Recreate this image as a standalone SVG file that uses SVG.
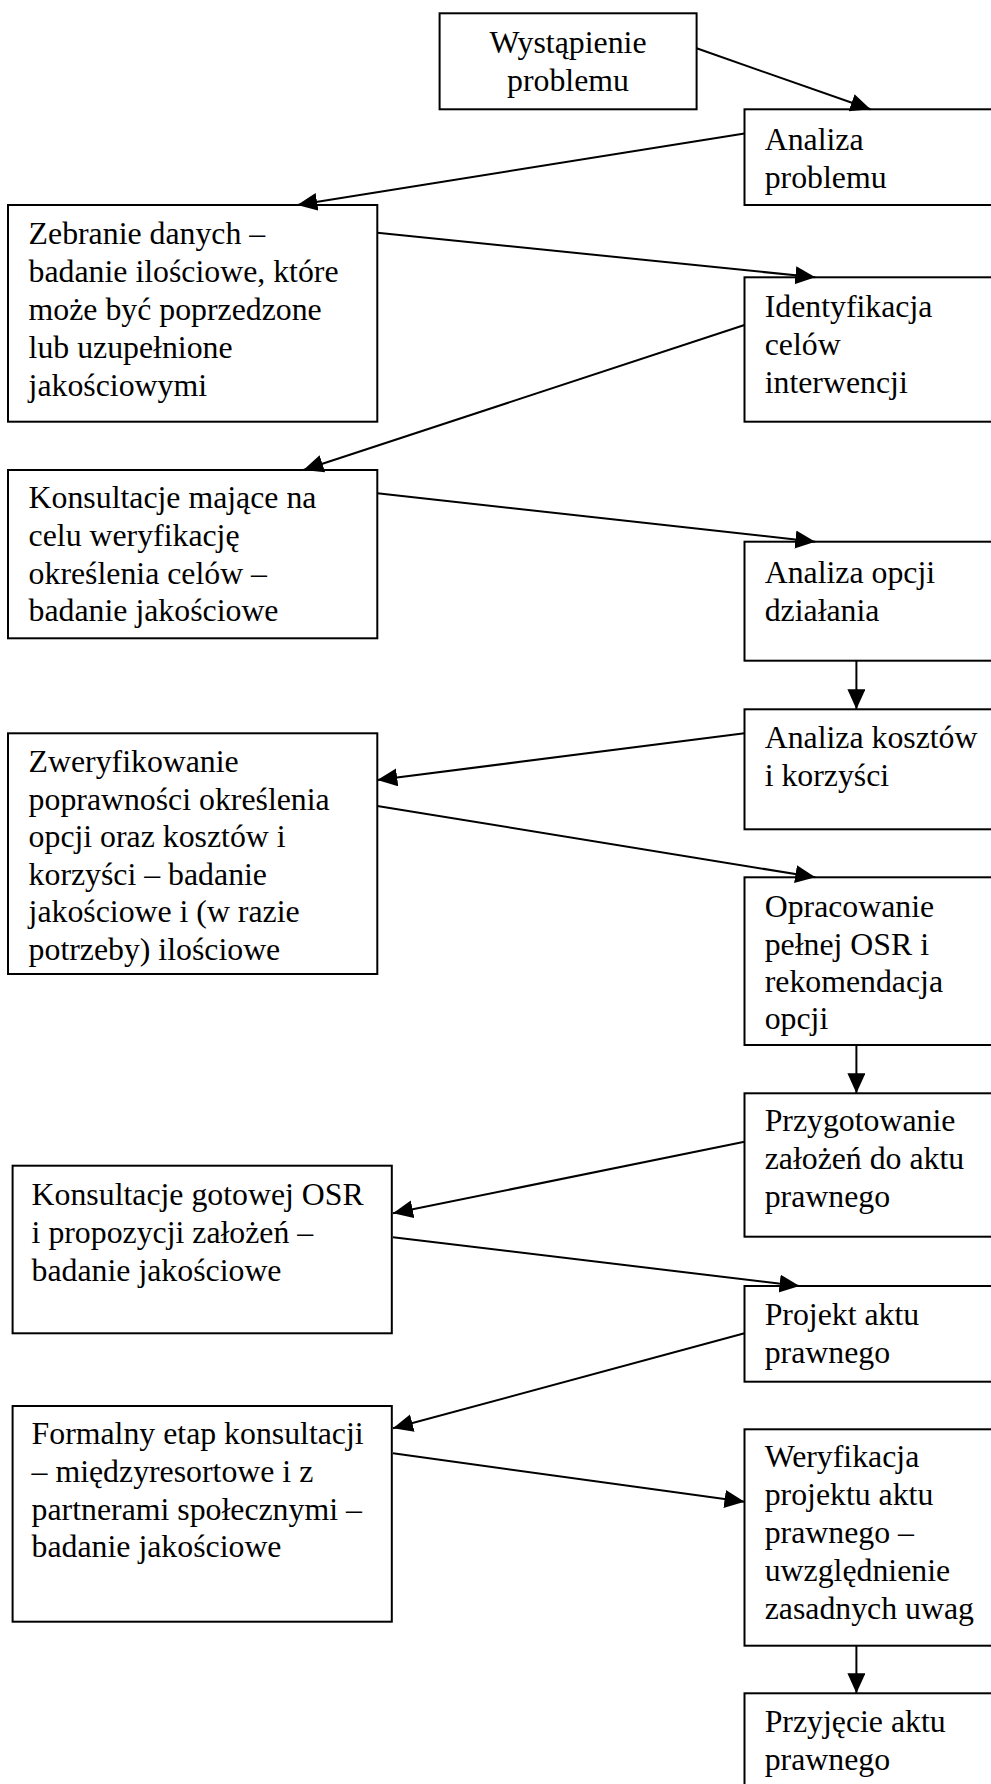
<svg xmlns="http://www.w3.org/2000/svg" width="991" height="1784" viewBox="0 0 991 1784">
<style>
.box{fill:#fff;stroke:#000;stroke-width:2}
.t{font-family:"Liberation Serif","Times New Roman",serif;font-size:31.8px;fill:#000}
.c{text-anchor:middle}
.ln{stroke:#000;stroke-width:2;fill:none;marker-end:url(#ah)}
</style>
<defs>
<marker id="ah" markerUnits="userSpaceOnUse" markerWidth="22" markerHeight="20" refX="20" refY="9" orient="auto">
<path d="M0,0 L20,9 L0,18 Z" fill="#000"/>
</marker>
</defs>
<rect width="991" height="1784" fill="#fff"/>
<g id="n1"><rect class="box" x="439.6" y="13.3" width="257" height="96"/>
<text class="t c" x="568" y="53">Wystąpienie</text><text class="t c" x="568" y="91">problemu</text></g>
<g id="n2"><rect class="box" x="744.5" y="109.3" width="260" height="95.7"/>
<text class="t" x="764.7" y="150">Analiza</text><text class="t" x="764.7" y="188">problemu</text></g>
<g id="n3"><rect class="box" x="8" y="205" width="369.3" height="216.7"/>
<text class="t" x="28.6" y="244">Zebranie danych –</text><text class="t" x="28.6" y="282">badanie ilościowe, które</text><text class="t" x="28.6" y="320">może być poprzedzone</text><text class="t" x="28.6" y="358">lub uzupełnione</text><text class="t" x="28.6" y="396">jakościowymi</text></g>
<g id="n4"><rect class="box" x="744.5" y="277.3" width="260" height="144.4"/>
<text class="t" x="764.7" y="316.5">Identyfikacja</text><text class="t" x="764.7" y="354.5">celów</text><text class="t" x="764.7" y="392.5">interwencji</text></g>
<g id="n5"><rect class="box" x="8" y="470" width="369.3" height="168.3"/>
<text class="t" x="28.6" y="508">Konsultacje mające na</text><text class="t" x="28.6" y="546">celu weryfikację</text><text class="t" x="28.6" y="583.5">określenia celów –</text><text class="t" x="28.6" y="621">badanie jakościowe</text></g>
<g id="n6"><rect class="box" x="744.5" y="541.7" width="260" height="119"/>
<text class="t" x="764.7" y="583">Analiza opcji</text><text class="t" x="764.7" y="621">działania</text></g>
<g id="n7"><rect class="box" x="744.5" y="709.3" width="260" height="120"/>
<text class="t" x="764.7" y="748">Analiza kosztów</text><text class="t" x="764.7" y="786">i korzyści</text></g>
<g id="n8"><rect class="box" x="8" y="733.3" width="369.3" height="240.7"/>
<text class="t" x="28.6" y="771.5">Zweryfikowanie</text><text class="t" x="28.6" y="809.5">poprawności określenia</text><text class="t" x="28.6" y="847">opcji oraz kosztów i</text><text class="t" x="28.6" y="884.5">korzyści – badanie</text><text class="t" x="28.6" y="922">jakościowe i (w razie</text><text class="t" x="28.6" y="959.5">potrzeby) ilościowe</text></g>
<g id="n9"><rect class="box" x="744.5" y="877.3" width="260" height="167.7"/>
<text class="t" x="764.7" y="916.5">Opracowanie</text><text class="t" x="764.7" y="954.5">pełnej OSR i</text><text class="t" x="764.7" y="992">rekomendacja</text><text class="t" x="764.7" y="1029">opcji</text></g>
<g id="n10"><rect class="box" x="744.5" y="1093.3" width="260" height="143.4"/>
<text class="t" x="764.7" y="1131">Przygotowanie</text><text class="t" x="764.7" y="1169">założeń do aktu</text><text class="t" x="764.7" y="1207">prawnego</text></g>
<g id="n11"><rect class="box" x="12.6" y="1165.7" width="379.2" height="167.6"/>
<text class="t" x="31.6" y="1205">Konsultacje gotowej OSR</text><text class="t" x="31.6" y="1243">i propozycji założeń –</text><text class="t" x="31.6" y="1281">badanie jakościowe</text></g>
<g id="n12"><rect class="box" x="744.5" y="1286" width="260" height="95.7"/>
<text class="t" x="764.7" y="1325">Projekt aktu</text><text class="t" x="764.7" y="1363">prawnego</text></g>
<g id="n13"><rect class="box" x="12.6" y="1406" width="379.2" height="215.7"/>
<text class="t" x="31.6" y="1444">Formalny etap konsultacji</text><text class="t" x="31.6" y="1482">– międzyresortowe i z</text><text class="t" x="31.6" y="1519.5">partnerami społecznymi –</text><text class="t" x="31.6" y="1557">badanie jakościowe</text></g>
<g id="n14"><rect class="box" x="744.5" y="1429.3" width="260" height="216.4"/>
<text class="t" x="764.7" y="1467">Weryfikacja</text><text class="t" x="764.7" y="1505">projektu aktu</text><text class="t" x="764.7" y="1543">prawnego –</text><text class="t" x="764.7" y="1580.5">uwzględnienie</text><text class="t" x="764.7" y="1618.5">zasadnych uwag</text></g>
<g id="n15"><rect class="box" x="744.5" y="1693.3" width="260" height="120"/>
<text class="t" x="764.7" y="1731.5">Przyjęcie aktu</text><text class="t" x="764.7" y="1769.5">prawnego</text></g>
<g id="connectors">
<line class="ln" x1="696.6" y1="48.3" x2="870.5" y2="109.3"/>
<line class="ln" x1="744.5" y1="133.5" x2="297.3" y2="205"/>
<line class="ln" x1="377.3" y1="232.7" x2="815.3" y2="277.3"/>
<line class="ln" x1="744.5" y1="325" x2="303.4" y2="470"/>
<line class="ln" x1="377.3" y1="493.3" x2="815.3" y2="541.7"/>
<line class="ln" x1="856.4" y1="660.7" x2="856.4" y2="709.3"/>
<line class="ln" x1="744.5" y1="733.3" x2="377.3" y2="780"/>
<line class="ln" x1="377.3" y1="806" x2="815.3" y2="877.3"/>
<line class="ln" x1="856.4" y1="1045" x2="856.4" y2="1093.3"/>
<line class="ln" x1="744.5" y1="1141.7" x2="393" y2="1213.3"/>
<line class="ln" x1="393" y1="1237.3" x2="799.5" y2="1286"/>
<line class="ln" x1="744.5" y1="1333.3" x2="393" y2="1428.3"/>
<line class="ln" x1="393" y1="1453.3" x2="744.5" y2="1501.7"/>
<line class="ln" x1="856.4" y1="1645.7" x2="856.4" y2="1693.3"/>
</g>
</svg>
